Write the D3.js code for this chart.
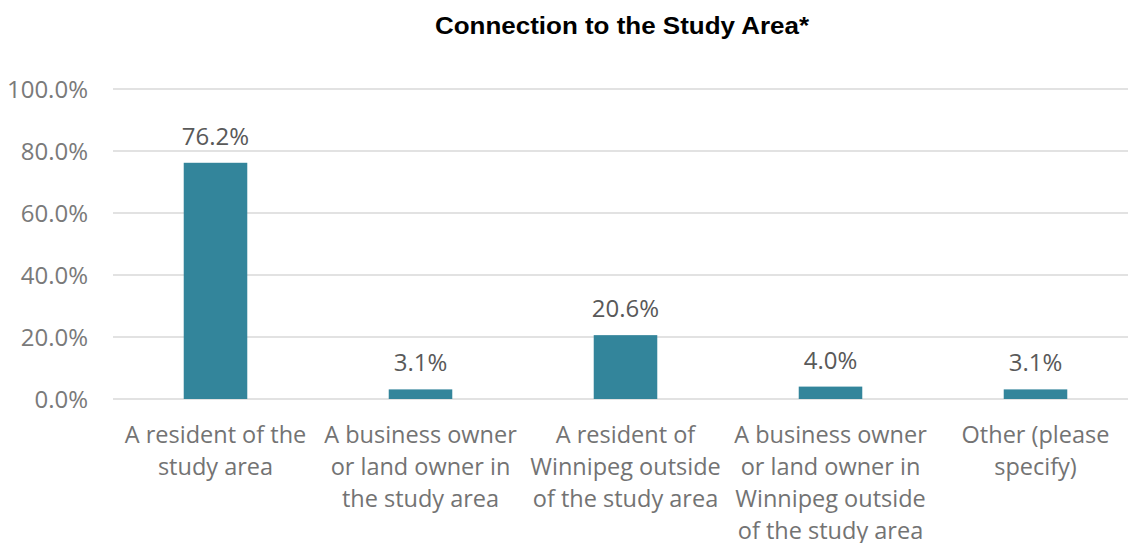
<!DOCTYPE html>
<html>
<head>
<meta charset="utf-8">
<script src="https://cdn.jsdelivr.net/npm/d3@7"></script>
<style>
  body { margin: 0; background: #fff; }
  svg { display: block; }
</style>
</head>
<body>
<div id="chart"></div>
<script>
const categories = [
  ["A resident of the", "study area"],
  ["A business owner", "or land owner in", "the study area"],
  ["A resident of", "Winnipeg outside", "of the study area"],
  ["A business owner", "or land owner in", "Winnipeg outside", "of the study area"],
  ["Other (please", "specify)"]
];
const values = [76.2, 3.1, 20.6, 4.0, 3.1];
const yTicks = [0, 20, 40, 60, 80, 100];

const width = 1128,
  height = 543,
  margin = { top: 89, right: -10, bottom: 144, left: 113 };

const svg = d3.select("#chart")
  .append("svg")
  .attr("width", width)
  .attr("height", height);

const x = d3.scaleBand()
  .domain(d3.range(values.length))
  .range([margin.left, width - margin.right])
  .paddingInner(0.69)
  .paddingOuter(0.345);

const y = d3.scaleLinear()
  .domain([0, 100])
  .range([height - margin.bottom, margin.top]);

// gridlines
svg.append("g")
  .attr("stroke", "#d9d9d9")
  .attr("stroke-width", 1.3)
  .selectAll("line")
  .data(yTicks)
  .join("line")
  .attr("x1", margin.left)
  .attr("x2", width)
  .attr("y1", d => y(d))
  .attr("y2", d => y(d));

// y axis labels
const yAxis = d3.axisLeft(y)
  .tickValues(yTicks)
  .tickSize(0)
  .tickPadding(0)
  .tickFormat(d => d.toFixed(1) + "%");

svg.append("g")
  .attr("transform", `translate(88,0)`)
  .call(yAxis)
  .call(g => g.select(".domain").remove())
  .selectAll("text")
  .attr("font-family", "'Open Sans', sans-serif")
  .attr("font-size", 24)
  .attr("dy", "0.34em")
  .attr("fill", "#7a7a7a");

// bars
svg.append("g")
  .attr("fill", "#33859b")
  .selectAll("rect")
  .data(values)
  .join("rect")
  .attr("x", (d, i) => x(i))
  .attr("width", x.bandwidth())
  .attr("y", d => y(d))
  .attr("height", d => y(0) - y(d));

// data labels
svg.append("g")
  .attr("font-family", "'Open Sans', sans-serif")
  .attr("font-size", 24)
  .attr("fill", "#595959")
  .attr("text-anchor", "middle")
  .selectAll("text")
  .data(values)
  .join("text")
  .attr("x", (d, i) => x(i) + x.bandwidth() / 2)
  .attr("y", d => y(d) - 18)
  .text(d => d.toFixed(1) + "%");

// category labels
svg.append("g")
  .attr("font-family", "'Open Sans', sans-serif")
  .attr("font-size", 23.5)
  .attr("fill", "#737373")
  .attr("text-anchor", "middle")
  .selectAll("text")
  .data(categories)
  .join("text")
  .attr("transform", (d, i) => `translate(${x(i) + x.bandwidth() / 2},443)`)
  .selectAll("tspan")
  .data(d => d)
  .join("tspan")
  .attr("x", 0)
  .attr("y", (d, i) => i * 32)
  .text(d => d);

// title
svg.append("text")
  .attr("x", 622)
  .attr("y", 34)
  .attr("text-anchor", "middle")
  .attr("font-family", "'Liberation Sans', Arial, sans-serif")
  .attr("font-weight", "bold")
  .attr("font-size", 24)
  .attr("textLength", 374)
  .attr("lengthAdjust", "spacingAndGlyphs")
  .attr("fill", "#000")
  .text("Connection to the Study Area*");
</script>
</body>
</html>
